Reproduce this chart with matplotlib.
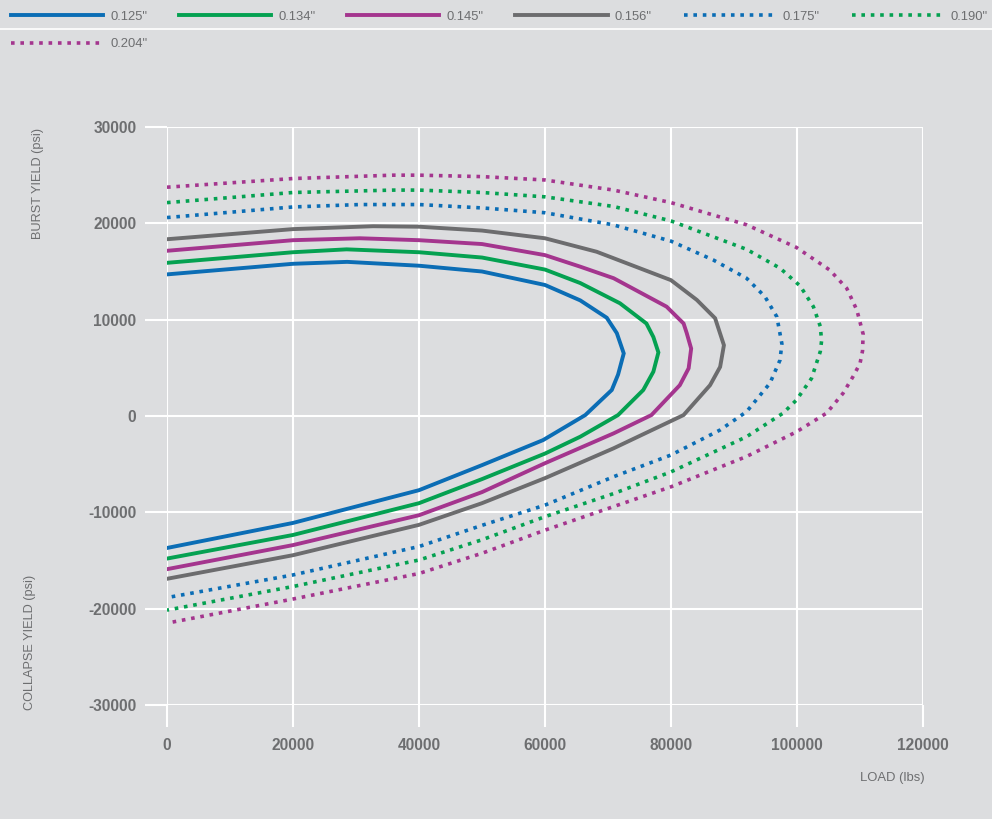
import matplotlib
matplotlib.use("Agg")
import matplotlib.pyplot as plt
from matplotlib.lines import Line2D

plt.rcParams['font.family'] = ['Liberation Sans', 'DejaVu Sans']
plt.rcParams['axes.unicode_minus'] = False

# wall thickness labels
labels = ['0.125"', '0.134"', '0.145"', '0.156"', '0.175"', '0.190"', '0.204"']
colors = ['#0b6db5', '#04a151', '#a4358e', '#6c6c6e', '#0b6db5', '#04a151', '#a4358e']
dotted = [False, False, False, False, True, True, True]

# load (lbs) and yield (psi), burst side then collapse side
load_125 = [0, 20000, 28600, 40000, 50000, 60000, 65600, 69800, 71400, 72500, 71600, 70600,
            66400, 59700, 50000, 40000, 20000, 0]
psi_125 = [14700, 15800, 16000, 15600, 15000, 13600, 12000, 10200, 8600, 6500, 4300, 2700,
           100, -2500, -5100, -7700, -11100, -13700]

load_134 = [0, 20000, 28500, 40000, 50000, 60000, 65600, 71900, 76100, 77200, 78000, 77200,
            75600, 71600, 65600, 60000, 50000, 40000, 20000, 0]
psi_134 = [15900, 17000, 17300, 17000, 16450, 15200, 13800, 11700, 9600, 8200, 6600, 4600,
           2700, 100, -2150, -3900, -6550, -9050, -12350, -14800]

load_145 = [0, 20000, 30600, 40000, 50000, 60000, 65600, 70900, 79300, 82000, 82500, 83200,
            82800, 81400, 76900, 70900, 60000, 50000, 40000, 20000, 0]
psi_145 = [17150, 18250, 18450, 18250, 17850, 16700, 15500, 14300, 11350, 9600, 8600, 7000,
           4950, 3200, 100, -1800, -4900, -7900, -10300, -13400, -15900]

load_156 = [0, 20000, 32700, 40000, 50000, 60000, 68200, 80000, 84100, 87000, 88400, 87800,
            86200, 82000, 70900, 60000, 50000, 40000, 20000, 0]
psi_156 = [18350, 19400, 19700, 19650, 19250, 18450, 17050, 14100, 12050, 10150, 7350, 5100,
           3200, 100, -3350, -6450, -9050, -11300, -14450, -16900]

load_175 = [0, 20000, 30600, 40000, 50000, 60000, 70800, 80000, 86700, 92000, 94900, 96800,
            97600, 97300, 95700, 92000, 87800, 80000, 70900, 60000, 50000, 40000, 20000, 0]
psi_175 = [20600, 21700, 21950, 21950, 21600, 21100, 19850, 18150, 16200, 14300, 12400, 10300,
           7500, 5800, 3400, 450, -1450, -4050, -6300, -9250, -11350, -13550, -16500, -18850]

load_190 = [0, 20000, 35900, 40000, 50000, 60000, 70900, 80000, 92000, 97300, 100500, 102600,
            103700, 103900, 103700, 102300, 99900, 97800, 92000, 80000, 70900, 60000, 50000,
            40000, 20000, 0]
psi_190 = [22150, 23200, 23450, 23450, 23200, 22750, 21750, 20250, 17300, 15350, 13500, 11350,
           9300, 7800, 6700, 3900, 1650, 300, -2150, -5800, -8050, -10450, -12850,
           -14950, -17700, -20150]

load_204 = [0, 20000, 35900, 40000, 50000, 60000, 70900, 80000, 92000, 99900, 105200, 107900,
            109500, 110500, 110400, 110000, 108900, 107300, 104700, 99900, 92000, 80000, 70900,
            60000, 50000, 40000, 20000, 0]
psi_204 = [23750, 24650, 25000, 25000, 24850, 24500, 23450, 22150, 19850, 17500, 15150, 13250,
           11000, 8500, 6750, 5450, 4100, 2350, 300, -1650, -4200, -7350, -9400,
           -11850, -14250, -16350, -19000, -21500]

loads = [load_125, load_134, load_145, load_156, load_175, load_190, load_204]
psis = [psi_125, psi_134, psi_145, psi_156, psi_175, psi_190, psi_204]

x_ticks = [0, 20000, 40000, 60000, 80000, 100000, 120000]
y_ticks = [-30000, -20000, -10000, 0, 10000, 20000, 30000]

bg = '#dcdddf'
txt = '#6d6e70'
W, H = 992, 819

fig = plt.figure(figsize=(W / 100, H / 100), dpi=100, facecolor=bg)
ax = fig.add_axes([167 / W, 1 - 705 / H, (923 - 167) / W, (705 - 127) / H], facecolor=bg)

handles = []
for x, y, c, d, lab in zip(loads, psis, colors, dotted, labels):
    if d:
        ln, = ax.plot(x, y, color=c, lw=2.6, linestyle=(0, (1.0, 1.6)),
                      dash_capstyle='butt', label=lab, zorder=3)
    else:
        ln, = ax.plot(x, y, color=c, lw=2.8, solid_joinstyle='miter', label=lab, zorder=3)
    handles.append(ln)

ax.set_xlim(0, 120000)
ax.set_ylim(-30000, 30000)
ax.set_xticks(x_ticks)
ax.set_yticks(y_ticks)
ax.grid(True, color='white', lw=1.5)
ax.set_axisbelow(True)
for s in ax.spines.values():
    s.set_visible(False)
ax.tick_params(axis='both', length=16, width=1.5, color='white', labelcolor=txt, labelsize=11.2)
ax.tick_params(axis='y', pad=6)
ax.tick_params(axis='x', pad=8)
for t in ax.get_xticklabels() + ax.get_yticklabels():
    t.set_fontweight('bold')

fig.text(925 / W, 1 - 778 / H, 'LOAD (lbs)', ha='right', va='center', color=txt, fontsize=9.4)
fig.text(38 / W, 1 - 128 / H, 'BURST YIELD (psi)', rotation=90, ha='center', va='top',
         color=txt, fontsize=9.2)
fig.text(30 / W, 1 - 710 / H, 'COLLAPSE YIELD (psi)', rotation=90, ha='center', va='bottom',
         color=txt, fontsize=9.2)

# legend fills column-wise, so put 0.204 second to land it under 0.125
order = [0, 6, 1, 2, 3, 4, 5]
leg = fig.legend([handles[i] for i in order], [labels[i] for i in order],
                 loc='upper left', bbox_to_anchor=(11 / W, 1 - 10.5 / H), ncol=6,
                 frameon=False, fontsize=9.4, handlelength=7.05, handletextpad=0.54,
                 columnspacing=2.45, labelspacing=1.2, borderpad=0, borderaxespad=0)
for t in leg.get_texts():
    t.set_color(txt)

fig.add_artist(Line2D([0, 1], [1 - 29 / H, 1 - 29 / H], color='white', lw=1.2,
                      transform=fig.transFigure))

fig.savefig('out.png', dpi=100, facecolor=bg)
